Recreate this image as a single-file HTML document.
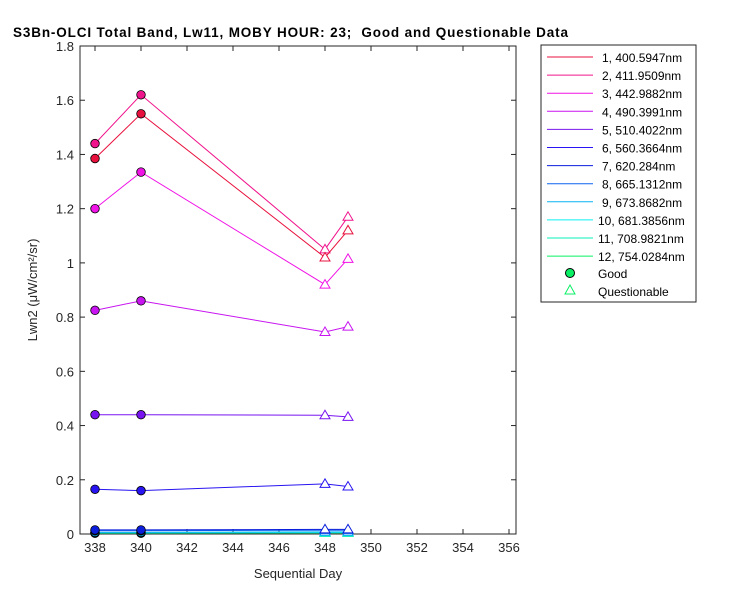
<!DOCTYPE html>
<html><head><meta charset="utf-8"><style>
body{margin:0;background:#fff;font-family:"Liberation Sans",sans-serif;}
svg text{font-family:"Liberation Sans",sans-serif;}
</style></head><body>
<svg id="chart" width="750" height="600" xmlns="http://www.w3.org/2000/svg">
<rect width="750" height="600" fill="#fff"/>
<text x="13" y="37" font-size="13.5" font-weight="bold" textLength="555" lengthAdjust="spacing" xml:space="preserve">S3Bn-OLCI Total Band, Lw11, MOBY HOUR: 23;  Good and Questionable Data</text>
<g id="axes"></g>
<g id="plot"></g>
<g id="legend"></g>
</svg>
<script>
const days = [338, 340, 348, 349];
const bandNames = ["1, 400.5947nm","2, 411.9509nm","3, 442.9882nm","4, 490.3991nm","5, 510.4022nm","6, 560.3664nm","7,  620.284nm","8, 665.1312nm","9, 673.8682nm","10, 681.3856nm","11, 708.9821nm","12, 754.0284nm"];
const band1 = [1.385, 1.55, 1.02, 1.12];
const band2 = [1.44, 1.62, 1.05, 1.17];
const band3 = [1.20, 1.335, 0.92, 1.015];
const band4 = [0.825, 0.86, 0.745, 0.765];
const band5 = [0.44, 0.44, 0.438, 0.432];
const band6 = [0.165, 0.16, 0.185, 0.175];
const band7 = [0.015, 0.015, 0.017, 0.017];
const band8 = [0.012, 0.012, 0.014, 0.014];
const band9 = [0.006, 0.006, 0.008, 0.008];
const band10 = [0.005, 0.005, 0.006, 0.006];
const band11 = [0.004, 0.004, 0.005, 0.005];
const band12 = [0.003, 0.003, 0.004, 0.004];
const quality = ["good","good","questionable","questionable"];
const xTicks = [338,340,342,344,346,348,350,352,354,356];
const yTicks = [0,0.2,0.4,0.6,0.8,1,1.2,1.4,1.6,1.8];
const yTickLabels = ["0","0.2","0.4","0.6","0.8","1","1.2","1.4","1.6","1.8"];

const bands=[band1,band2,band3,band4,band5,band6,band7,band8,band9,band10,band11,band12];
const colors=['#E8103C','#F0148C','#F014E6','#C814F0','#7814F0','#2814F0','#0A1EDC','#0A64F0','#0AB4F0','#0AF0F0','#0AF0B4','#0AF064'];
const L=80,R=516,T=46,B=534;
const x=v=>95+(v-338)*23;
const y=v=>B-v*(B-T)/1.8;
const NS="http://www.w3.org/2000/svg";
function mk(tag,attrs,parent){const e=document.createElementNS(NS,tag);for(const k in attrs)e.setAttribute(k,attrs[k]);parent.appendChild(e);return e;}
const ax=document.getElementById('axes'),pl=document.getElementById('plot'),lg=document.getElementById('legend');
let box=mk('rect',{x:L,y:T,width:R-L,height:B-T,fill:'none',stroke:'#262626','stroke-width':1},ax);


xTicks.forEach(t=>{
 mk('line',{x1:x(t),x2:x(t),y1:B,y2:B-5,stroke:'#262626'},ax);
 mk('line',{x1:x(t),x2:x(t),y1:T,y2:T+5,stroke:'#262626'},ax);
 const tx=mk('text',{x:x(t),y:B+18,'text-anchor':'middle','font-size':13,fill:'#262626'},ax);tx.textContent=t;
 
 
});
yTicks.forEach((t,i)=>{
 mk('line',{x1:L,x2:L+5,y1:y(t),y2:y(t),stroke:'#262626'},ax);
 mk('line',{x1:R,x2:R-5,y1:y(t),y2:y(t),stroke:'#262626'},ax);
 const tx=mk('text',{x:L-6,y:y(t)+5,'text-anchor':'end','font-size':13,fill:'#262626'},ax);tx.textContent=yTickLabels[i];
 
 
});
let xl=mk('text',{x:298,y:578,'text-anchor':'middle','font-size':13,fill:'#262626'},ax);xl.textContent='Sequential Day';


let yl=mk('text',{x:0,y:0,transform:'translate(37,290) rotate(-90)','text-anchor':'middle','font-size':13,fill:'#262626'},ax);yl.textContent='Lwn2 (μW/cm²/sr)';


for(let b=bands.length-1;b>=0;b--){
 const d=bands[b],c=colors[b];
 const pts=days.map((v,i)=>x(v)+','+y(d[i])).join(' ');
 const ln=mk('polyline',{points:pts,fill:'none',stroke:c,'stroke-width':1},pl);
 
 
 days.forEach((v,i)=>{
  let m;
  if(quality[i]==='good'){m=mk('circle',{cx:x(v),cy:y(d[i]),r:4.3,fill:c,stroke:'#000','stroke-width':0.8},pl);}
  else{const cx=x(v),cy=y(d[i]);m=mk('polygon',{points:`${cx},${cy-5} ${cx-5},${cy+3.5} ${cx+5},${cy+3.5}`,fill:'#fff',stroke:c,'stroke-width':1},pl);}
  
  
 });
}
let lb=mk('rect',{x:541,y:45,width:155,height:257,fill:'#fff',stroke:'#262626'},lg);


bandNames.forEach((n,i)=>{
 const yy=57+i*18.1;
 const l=mk('line',{x1:547,x2:593,y1:yy,y2:yy,stroke:colors[i]},lg);
 
 
 const t=mk('text',{x:n.length>13?598:602,y:yy+5,'font-size':12,fill:'#000',"xml:space":"preserve"},lg);t.textContent=n;
 
 
});
let gc=mk('circle',{cx:570,cy:273,r:4.5,fill:'#0AF064',stroke:'#000'},lg);


let gt=mk('text',{x:598,y:278,'font-size':12},lg);gt.textContent='Good';


let qm=mk('polygon',{points:'570,285 565,294 575,294',fill:'#fff',stroke:'#0AF064'},lg);


let qt=mk('text',{x:598,y:296,'font-size':12},lg);qt.textContent='Questionable';


</script>
</body></html>
